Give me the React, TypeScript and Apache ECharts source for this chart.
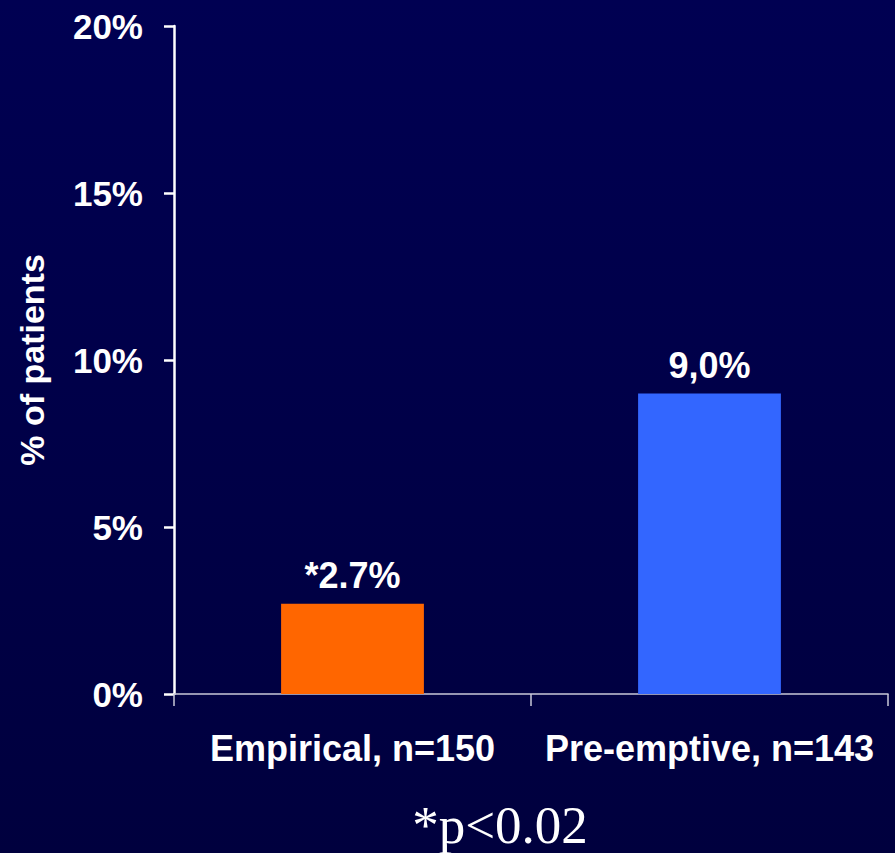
import React, { useEffect, useRef } from "react";
import * as echarts from "echarts";

const categories = ["Empirical, n=150", "Pre-emptive, n=143"];
const values = [2.7, 9.0];
const valueLabels = ["*2.7%", "9,0%"];
const barColors = ["#FF6600", "#3366FF"];
const yTicks = [0, 5, 10, 15, 20];
const footnote = "*p<0.02";

export default function App() {
  const ref = useRef<HTMLDivElement>(null);
  useEffect(() => {
    if (!ref.current) return;
    const chart = echarts.init(ref.current, undefined, { renderer: "svg" });
    const font = "'Liberation Sans', Arial, sans-serif";
    chart.setOption({
      animation: false,
      backgroundColor: {
        type: "linear",
        x: 0, y: 0, x2: 0, y2: 1,
        colorStops: [
          { offset: 0, color: "#000052" },
          { offset: 1, color: "#00003E" },
        ],
      },
      grid: {
        left: 174,
        right: 7,
        top: 26,
        bottom: 159,
        containLabel: false,
        outerBoundsMode: "none",
      },
      xAxis: {
        type: "category",
        data: categories,
        axisLine: { lineStyle: { color: "#C8C8D8", width: 1.5 } },
        axisTick: { show: true, length: 12, lineStyle: { color: "#C8C8D8", width: 1.5 } },
        axisLabel: {
          color: "#FFFFFF",
          fontFamily: font,
          fontWeight: "bold",
          fontSize: 36,
          margin: 36,
          interval: 0,
          hideOverlap: false,
        },
      },
      yAxis: {
        type: "value",
        min: 0,
        max: 20,
        interval: 5,
        name: "% of patients",
        nameLocation: "middle",
        nameGap: 125,
        nameTextStyle: {
          color: "#FFFFFF",
          fontFamily: font,
          fontWeight: "bold",
          fontSize: 34,
        },
        splitLine: { show: false },
        axisLine: { show: true, lineStyle: { color: "#FFFFFF", width: 2.5 } },
        axisTick: { show: true, length: 10, lineStyle: { color: "#FFFFFF", width: 2.5 } },
        axisLabel: {
          color: "#FFFFFF",
          fontFamily: font,
          fontWeight: "bold",
          fontSize: 35,
          margin: 31,
          formatter: (v: number) => (yTicks.includes(v) ? `${v}%` : ""),
        },
      },
      series: [
        {
          type: "bar",
          barWidth: "40%",
          data: values.map((v, i) => ({
            value: v,
            itemStyle: { color: barColors[i] },
            label: {
              show: true,
              position: "top",
              distance: 10,
              formatter: valueLabels[i],
              color: "#FFFFFF",
              fontFamily: font,
              fontWeight: "bold",
              fontSize: 36,
            },
          })),
        },
      ],
      graphic: [
        {
          type: "text",
          x: 500,
          y: 825,
          style: {
            text: footnote,
            fill: "#FFFFFF",
            font: "53px 'Liberation Serif', 'Times New Roman', serif",
            textAlign: "center",
            textVerticalAlign: "middle",
          },
        },
      ],
    });
    return () => chart.dispose();
  }, []);
  return (
    <div
      ref={ref}
      style={{ position: "absolute", left: 0, top: 0, width: 895, height: 853 }}
    />
  );
}
